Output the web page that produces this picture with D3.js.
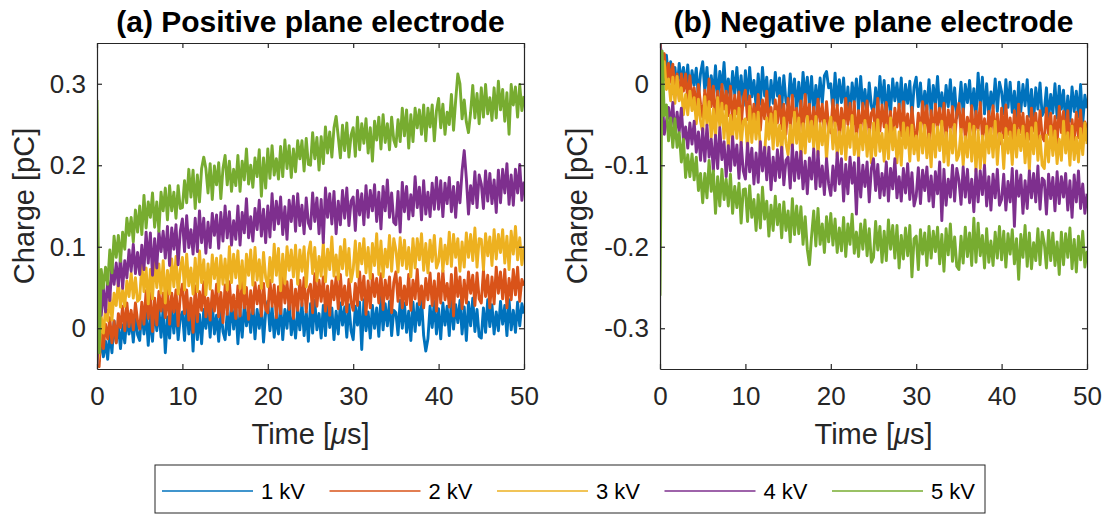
<!DOCTYPE html>
<html>
<head>
<meta charset="utf-8">
<script src="https://cdn.jsdelivr.net/npm/d3@7"></script>
<style>
  body { margin: 0; background: #fff; }
  text { font-family: "Liberation Sans", Arial, Helvetica, sans-serif; }
</style>
</head>
<body>
<svg id="chart" width="1104" height="514"></svg>
<script>
// sampling step of the traces, in µs
const dt = 0.25;

const voltages = ["1 kV", "2 kV", "3 kV", "4 kV", "5 kV"];
const colors = ["#0072BD", "#D95319", "#EDB120", "#7E2F8E", "#77AC30"];
const xTicks = [0, 10, 20, 30, 40, 50];
const yTicksPos = [0, 0.1, 0.2, 0.3];
const yTicksNeg = [-0.3, -0.2, -0.1, 0];

// charge in fC (1 fC = 0.001 pC), one sample every dt
const pos1kV = [
  -45,-40,-12,-35,-16,-38,-4,-30,9,-17,4,-25,4,-18,14,-7,12,-17,16,-8,
  -15,25,-7,19,-21,17,-16,29,-3,23,-11,25,-30,14,-12,25,-6,28,-14,13,
  20,-15,33,-7,25,-28,28,-14,17,-19,23,0,28,-11,31,-7,16,-16,24,-4,
  -14,19,-8,33,-1,28,-19,22,-11,30,3,25,-5,31,-13,23,0,27,-17,20,
  33,-3,26,-11,16,-7,30,-14,23,0,35,-8,15,-12,24,-2,31,-9,21,-16,
  30,-6,34,-2,18,-12,28,-9,36,1,25,-14,21,-7,31,4,26,-11,29,-3,
  -14,27,4,32,-26,35,-3,20,-12,28,0,25,-10,38,-2,30,3,33,-9,22,
  19,-8,34,0,31,-5,21,-15,32,-4,30,4,36,-9,-28,-13,27,1,33,-7,
  24,-13,31,4,27,-9,35,-1,29,7,34,-7,26,-15,32,3,37,-4,23,-10,
  -12,25,-5,35,2,29,-7,20,-3,33,5,28,-9,35,-2,22,-5,32,3,30,
  18
];
const pos2kV = [
  -45,-47,2,-25,5,-13,13,-18,9,-18,18,1,27,-3,31,2,22,-2,31,9,
  -1,32,5,46,12,43,-4,37,4,45,21,43,13,49,5,43,20,47,3,40,
  54,18,47,10,37,-5,52,8,45,22,57,14,37,10,46,21,54,14,44,7,
  53,17,57,21,41,12,52,15,60,25,50,11,46,18,56,30,52,15,55,23,
  19,59,27,53,13,51,18,63,31,57,23,59,12,48,22,59,28,62,20,47,
  54,19,67,27,59,33,63,21,52,16,58,35,63,24,66,29,52,20,60,32,
  22,55,28,69,35,64,17,58,25,66,39,61,31,67,23,59,36,63,19,56,
  69,33,62,25,52,29,66,22,59,36,72,29,52,25,61,35,68,28,58,21,
  67,31,71,35,55,26,66,15,74,39,63,24,59,31,69,43,65,28,68,36,
  31,71,39,65,25,63,30,75,43,69,36,72,25,61,35,72,41,75,33,60,
  52
];
const pos3kV = [
  -45,-30,14,-6,24,9,42,10,43,28,58,26,47,27,58,39,68,37,62,33,
  36,80,45,74,30,72,36,86,50,79,43,83,31,71,42,85,51,88,42,72,
  87,47,91,52,74,42,86,45,95,56,84,41,79,48,90,61,86,45,89,54,
  85,47,100,56,91,62,95,49,83,43,91,65,96,53,99,59,84,49,93,62,
  51,87,57,103,65,98,46,91,55,100,71,96,63,102,54,96,70,100,51,92,
  106,67,99,58,88,64,105,57,97,72,112,64,90,60,100,73,109,65,98,57,
  72,107,63,104,79,110,68,99,61,104,77,116,66,107,63,97,75,114,70,110,
  96,69,111,77,108,73,99,63,110,74,110,84,116,71,104,68,108,82,114,74,
  82,110,70,102,79,118,76,115,87,110,70,106,75,117,87,115,83,123,75,110,
  109,72,116,89,112,77,121,85,115,93,121,80,113,72,119,91,125,84,111,78,
  101
];
const pos4kV = [
  -45,20,16,49,20,59,34,79,54,80,52,88,49,83,62,96,70,103,67,93,
  66,102,72,118,80,117,65,110,74,119,94,119,86,125,77,123,97,127,78,119,
  134,94,138,99,121,91,135,94,144,105,135,92,130,99,141,114,139,98,142,107,
  150,111,143,102,132,109,150,102,142,117,159,111,137,107,147,121,157,113,146,105,
  150,112,165,121,156,128,161,115,149,109,157,131,162,119,165,126,151,116,160,129,
  122,166,131,160,116,158,105,172,136,165,128,168,116,156,127,169,135,172,126,156,
  161,120,169,139,165,127,175,136,169,144,176,131,167,122,174,144,182,136,166,130,
  127,168,118,179,143,174,134,164,138,186,148,173,133,181,140,167,137,178,146,185,
  146,181,137,178,153,185,143,174,136,179,154,193,218,184,140,175,153,192,148,188,
  177,147,193,156,190,153,182,142,194,154,195,166,202,152,188,151,195,166,201,157,
  180
];
const pos5kV = [
  280,-30,72,49,75,54,96,68,113,87,114,82,118,97,135,114,136,106,145,118,
  150,115,163,123,155,136,166,124,155,119,167,144,172,133,175,144,167,135,175,147,
  148,181,154,195,161,194,147,188,155,196,210,196,166,202,158,199,176,203,159,196,
  212,176,205,168,195,175,212,168,205,182,220,177,200,173,209,186,219,162,209,172,
  220,184,224,188,208,183,223,186,231,196,224,185,220,192,230,208,230,193,233,201,
  200,240,208,234,194,235,202,247,215,241,210,246,260,235,209,249,218,252,210,237,
  246,211,259,219,251,227,257,215,246,205,254,231,259,220,262,228,251,219,259,231,
  223,256,229,270,236,268,221,262,229,270,246,268,238,274,230,270,247,274,230,267,
  282,246,275,238,265,250,287,243,280,312,300,257,280,253,240,265,298,258,288,251,
  295,259,299,263,283,255,295,258,303,268,293,254,289,238,299,274,296,259,299,267,
  285
];

const neg1kV = [
  50,30,5,35,5,27,-12,20,-7,25,2,20,-5,23,-13,16,-2,19,-17,13,
  27,-9,20,-17,10,-15,22,-22,15,-8,26,-17,6,-21,15,-13,20,-20,10,-27,
  16,-20,20,-16,4,-28,12,-25,20,-15,8,-31,4,-24,14,-15,7,-30,10,-22,
  -28,12,-20,6,-34,2,-31,14,-18,8,-27,9,-38,-2,-28,7,-24,10,15,-5,
  0,-35,13,-27,5,-23,7,-35,-4,-40,1,-22,6,-33,9,-30,-7,-39,1,-27,
  -38,-5,-32,9,-25,4,-43,-2,-35,6,-21,1,-29,7,-37,-1,-24,3,-41,-4,
  8,-28,1,-36,-9,-32,5,-39,-2,-25,9,-34,-11,-38,-2,-28,5,-35,-5,-42,
  -30,2,-38,-1,-23,4,-34,-6,-41,13,-27,8,-37,0,-40,-10,-30,6,-34,2,
  -10,-37,5,-29,2,-35,-9,-45,2,-34,-1,-27,5,-40,-7,-45,-5,-31,1,-39,
  -33,-5,-45,-13,-36,0,-42,-3,-31,-8,-51,-15,-46,-4,-34,-9,-41,-1,-49,-14,
  -30
];
const neg2kV = [
  50,25,37,2,25,2,24,-11,12,-19,12,-9,12,-21,10,-21,-5,-31,-1,-25,
  -41,-8,-35,6,-28,-3,-50,-9,-42,-1,-31,-9,-39,-3,-47,-14,-37,-10,-54,-17,
  -8,-44,-15,-52,-25,-50,-13,-57,-20,-43,-9,-52,-29,-56,-20,-48,-15,-55,-25,-62,
  -18,-54,-14,-50,-30,-61,-21,-58,-13,-48,-25,-64,-29,-57,-19,-47,-25,-62,-22,-54,
  -60,-20,-52,-26,-66,-30,-63,-18,-50,-24,-58,-22,-69,-33,-59,-24,-55,-21,-63,-36,
  -31,-66,-18,-58,-26,-53,-23,-65,-34,-70,-30,-53,-25,-64,-22,-60,-37,-69,-29,-57,
  -69,-36,-63,-22,-56,-27,-74,-33,-66,-25,-52,-30,-60,-24,-68,-32,-55,-28,-72,-35,
  -24,-60,-31,-68,-41,-64,-27,-71,-34,-57,-23,-66,-43,-70,-34,-60,-27,-67,-37,-74,
  -30,-66,-26,-62,-42,-73,-33,-70,-25,-60,-36,-75,-40,-68,-30,-58,-36,-73,-33,-65,
  -70,-30,-62,-36,-76,-40,-73,-28,-60,-34,-69,-33,-80,-44,-70,-35,-66,-32,-74,-47,
  -55
];
const neg3kV = [
  50,2,27,-7,6,-21,8,-24,9,-21,-5,-38,-13,-38,-9,-33,-17,-49,-19,-46,
  -60,-16,-51,-22,-66,-31,-67,-17,-53,-24,-67,-27,-79,-39,-68,-33,-67,-30,-76,-46,
  -43,-81,-28,-72,-37,-68,-35,-81,-97,-87,-42,-68,-37,-80,-34,-76,-51,-86,-42,-73,
  -87,-51,-81,-35,-73,-42,-94,-49,-85,-40,-71,-46,-79,-40,-88,-49,-75,-45,-94,-53,
  -41,-80,-48,-89,-59,-86,-45,-93,-53,-78,-39,-87,-61,-91,-51,-81,-45,-89,-56,-97,
  -48,-88,-44,-83,-61,-95,-51,-92,-42,-81,-54,-97,-59,-100,-48,-79,-54,-95,-51,-86,
  -64,-94,-48,-85,-51,-91,-62,-102,-50,-90,-53,-82,-46,-96,-60,-100,-56,-85,-50,-94,
  -87,-56,-100,-65,-90,-49,-95,-52,-108,-57,-104,-64,-98,-52,-85,-55,-90,-46,-99,-61,
  -63,-104,-55,-85,-59,-99,-51,-90,-57,-82,-52,-97,-61,-106,-54,-86,-48,-94,-64,-100,
  -104,-63,-96,-52,-88,-58,-98,-68,-94,-46,-85,-60,-100,-52,-93,-66,-96,-55,-87,-48,
  -74
];
const neg4kV = [
  50,-16,-62,-46,-29,-52,-23,-66,-35,-59,-30,-71,-53,-79,-48,-74,-46,-84,-59,-94,
  -55,-95,-51,-90,-68,-107,-63,-104,-54,-93,-71,-114,-76,-107,-65,-100,-75,-116,-72,-107,
  -117,-73,-108,-79,-123,-85,-121,-71,-107,-78,-118,-78,-130,-90,-119,-81,-115,-78,-124,-94,
  -90,-128,-75,-119,-84,-116,-83,-129,-95,-135,-91,-117,-80,-129,-83,-126,-101,-136,-92,-123,
  -137,-101,-131,-85,-123,-92,-144,-99,-135,-90,-122,-97,-160,-91,-139,-100,-126,-96,-145,-104,
  -92,-131,-99,-140,-110,-137,-96,-144,-104,-129,-92,-140,-114,-144,-104,-134,-98,-142,-109,-150,
  -138,-103,-147,-106,-131,-102,-144,-113,-151,-108,-135,-96,-168,-105,-149,-117,-139,-100,-144,-104,
  -118,-148,-102,-139,-105,-146,-117,-157,-105,-145,-107,-136,-100,-150,-114,-155,-111,-140,-105,-149,
  -142,-111,-155,-120,-145,-104,-175,-107,-138,-112,-159,-119,-153,-107,-140,-110,-145,-101,-154,-116,
  -119,-160,-111,-141,-115,-156,-108,-147,-114,-139,-110,-155,-119,-164,-112,-145,-107,-153,-123,-159,
  -135
];
const neg5kV = [
  -260,40,-39,-26,-70,-42,-78,-43,-78,-60,-96,-68,-115,-87,-114,-86,-118,-90,-131,-110,
  -146,-110,-140,-94,-132,-107,-159,-114,-150,-105,-142,-117,-150,-111,-159,-126,-152,-122,-171,-130,
  -129,-169,-125,-164,-142,-180,-136,-177,-127,-166,-144,-187,-149,-180,-138,-173,-148,-189,-145,-180,
  -156,-194,-141,-185,-150,-184,-151,-197,-163,-203,-222,-187,-156,-199,-153,-197,-172,-207,-163,-194,
  -159,-198,-166,-207,-177,-205,-164,-212,-172,-197,-160,-208,-182,-212,-172,-203,-167,-211,-178,-219,
  -213,-169,-204,-175,-219,-181,-217,-167,-203,-174,-214,-174,-226,-186,-215,-177,-211,-174,-237,-190,
  -187,-228,-179,-209,-183,-223,-175,-214,-181,-206,-176,-221,-185,-230,-178,-210,-172,-218,-188,-224,
  -228,-187,-220,-176,-212,-183,-223,-165,-219,-171,-211,-186,-226,-178,-219,-193,-223,-182,-214,-175,
  -216,-181,-225,-184,-209,-179,-221,-190,-240,-185,-213,-174,-224,-183,-227,-195,-217,-178,-222,-182,
  -196,-226,-180,-217,-183,-223,-194,-234,-182,-222,-184,-213,-177,-227,-191,-231,-187,-216,-181,-225,
  -205
];

const svg = d3.select("#chart");
const axisColor = "#262626";

const panels = [
  {
    title: "(a) Positive plane electrode",
    left: 97, right: 524,
    yDomain: [-0.05, 0.35], yTicks: yTicksPos,
    series: [pos1kV, pos2kV, pos3kV, pos4kV, pos5kV],
    yLabelX: 34
  },
  {
    title: "(b) Negative plane electrode",
    left: 660, right: 1087,
    yDomain: [-0.35, 0.05], yTicks: yTicksNeg,
    series: [neg1kV, neg2kV, neg3kV, neg4kV, neg5kV],
    yLabelX: 587
  }
];
const plotTop = 43, plotBottom = 369;

panels.forEach((p, pi) => {
  const x = d3.scaleLinear().domain([0, 50]).range([p.left, p.right]);
  const y = d3.scaleLinear().domain(p.yDomain).range([plotBottom, plotTop]);

  const clipId = "clip" + pi;
  svg.append("clipPath").attr("id", clipId)
    .append("rect")
    .attr("x", p.left).attr("y", plotTop)
    .attr("width", p.right - p.left).attr("height", plotBottom - plotTop);

  // traces, 1 kV first so 5 kV ends on top
  const line = d3.line()
    .x((d, i) => x(i * dt))
    .y(d => y(d / 1000));

  const g = svg.append("g").attr("clip-path", `url(#${clipId})`);
  p.series.forEach((s, k) => {
    g.append("path")
      .datum(s)
      .attr("fill", "none")
      .attr("stroke", colors[k])
      .attr("stroke-width", 2.9)
      .attr("stroke-linejoin", "round")
      .attr("d", line);
  });

  // axes (box with inward ticks)
  const fmt = d => String(d);
  const axB = svg.append("g")
    .attr("transform", `translate(0,${plotBottom})`)
    .call(d3.axisBottom(x).tickValues(xTicks).tickSizeInner(-5).tickSizeOuter(0).tickPadding(18).tickFormat(fmt));
  const axT = svg.append("g")
    .attr("transform", `translate(0,${plotTop})`)
    .call(d3.axisTop(x).tickValues(xTicks).tickSizeInner(-5).tickSizeOuter(0).tickFormat(""));
  const axL = svg.append("g")
    .attr("transform", `translate(${p.left},0)`)
    .call(d3.axisLeft(y).tickValues(p.yTicks).tickSizeInner(-5).tickSizeOuter(0).tickPadding(11).tickFormat(fmt));
  const axR = svg.append("g")
    .attr("transform", `translate(${p.right},0)`)
    .call(d3.axisRight(y).tickValues(p.yTicks).tickSizeInner(-5).tickSizeOuter(0).tickFormat(""));

  [axB, axT, axL, axR].forEach(a => {
    a.select(".domain").attr("stroke", axisColor).attr("stroke-width", 1.2);
    a.selectAll(".tick line").attr("stroke", axisColor).attr("stroke-width", 1.2);
    a.selectAll(".tick text")
      .attr("fill", axisColor)
      .style("font-size", "26px")
      .style("font-family", '"Liberation Sans", Arial, sans-serif');
  });

  const cx = (p.left + p.right) / 2;

  svg.append("text")
    .attr("x", cx).attr("y", 32)
    .attr("text-anchor", "middle")
    .style("font-size", "30px")
    .style("font-weight", "bold")
    .attr("fill", "#000")
    .text(p.title);

  const xl = svg.append("text")
    .attr("x", cx).attr("y", 444)
    .attr("text-anchor", "middle")
    .style("font-size", "29px")
    .attr("fill", axisColor);
  xl.append("tspan").text("Time [");
  xl.append("tspan").style("font-style", "italic").text("\u03bc");
  xl.append("tspan").text("s]");

  svg.append("text")
    .attr("transform", `translate(${p.yLabelX},${(plotTop + plotBottom) / 2}) rotate(-90)`)
    .attr("text-anchor", "middle")
    .style("font-size", "29px")
    .attr("fill", axisColor)
    .text("Charge [pC]");
});

// legend
const legend = svg.append("g");
legend.append("rect")
  .attr("x", 155).attr("y", 465)
  .attr("width", 830).attr("height", 48)
  .attr("fill", "#fff")
  .attr("stroke", axisColor)
  .attr("stroke-width", 1);

voltages.forEach((v, k) => {
  const x0 = 162 + k * 167.5;
  legend.append("line")
    .attr("x1", x0).attr("x2", x0 + 91)
    .attr("y1", 491).attr("y2", 491)
    .attr("stroke", colors[k])
    .attr("stroke-width", 1.5);
  legend.append("text")
    .attr("x", x0 + 99).attr("y", 499)
    .style("font-size", "22px")
    .attr("fill", "#000")
    .text(v);
});
</script>
</body>
</html>
